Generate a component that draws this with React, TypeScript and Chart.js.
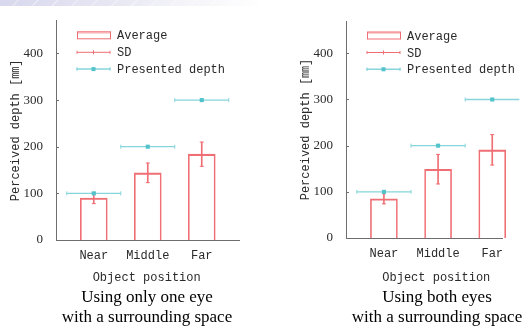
import React, { useEffect, useRef } from "react";
import { Chart, registerables } from "chart.js";

Chart.register(...registerables);

// ---- data ----
const categories = ["Near", "Middle", "Far"];
const yTickValues = [0, 100, 200, 300, 400];
const presentedDepth = [100, 200, 300];
const oneEyeAverage = [90, 144, 184];
const oneEyeSD = [12, 21, 26];
const bothEyesAverage = [85, 149, 191];
const bothEyesSD = [11, 32, 33];
const legendLabels = ["Average", "SD", "Presented depth"];
const yTitle = "Perceived depth [㎜]";
const xTitle = "Object position";
const captionOne = ["Using only one eye", "with a surrounding space"];
const captionBoth = ["Using both eyes", "with a surrounding space"];

// ---- styles ----
const RED = "#ef6f74";
const RED_LIGHT = "rgba(239,117,121,0.35)";
const CYAN_LINE = "#86d5dc";
const CYAN_MARK = "#52c2cb";
const AXIS = "#6e6e6e";
const TEXT = "#2a2a2a";
const MONO = "'Liberation Mono', 'Noto Sans CJK JP', monospace";
const SERIF = "'Liberation Serif', serif";

const legendPlugin = {
  id: "depthLegend",
  afterDatasetsDraw(chart: any) {
    const { ctx, chartArea } = chart;
    const l = chartArea.left;
    const t = chartArea.top;
    const x0 = l + 21;
    const x1 = l + 54;
    const xm = (x0 + x1) / 2;
    const rows = [14.5, 31.5, 48.3];
    ctx.save();
    // Average box
    ctx.fillStyle = RED_LIGHT;
    ctx.fillRect(x0, t + rows[0] - 3.5, x1 - x0, 2);
    ctx.strokeStyle = RED;
    ctx.lineWidth = 1;
    ctx.strokeRect(x0 + 0.5, t + rows[0] - 3.5, x1 - x0, 7);
    // SD
    ctx.beginPath();
    ctx.moveTo(x0, t + rows[1]);
    ctx.lineTo(x1, t + rows[1]);
    ctx.moveTo(xm, t + rows[1] - 2);
    ctx.lineTo(xm, t + rows[1] + 2);
    ctx.moveTo(x0, t + rows[1] - 1.5);
    ctx.lineTo(x0, t + rows[1] + 1.5);
    ctx.moveTo(x1, t + rows[1] - 1.5);
    ctx.lineTo(x1, t + rows[1] + 1.5);
    ctx.stroke();
    // Presented depth
    ctx.strokeStyle = CYAN_LINE;
    ctx.lineWidth = 1.5;
    ctx.beginPath();
    ctx.moveTo(x0, t + rows[2]);
    ctx.lineTo(x1, t + rows[2]);
    ctx.moveTo(x0, t + rows[2] - 1.5);
    ctx.lineTo(x0, t + rows[2] + 1.5);
    ctx.moveTo(x1, t + rows[2] - 1.5);
    ctx.lineTo(x1, t + rows[2] + 1.5);
    ctx.stroke();
    ctx.fillStyle = CYAN_MARK;
    ctx.fillRect(xm - 2, t + rows[2] - 2, 4, 4);
    // labels
    ctx.fillStyle = TEXT;
    ctx.font = `12px ${MONO}`;
    ctx.textBaseline = "middle";
    ctx.textAlign = "left";
    legendLabels.forEach((lab, i) => ctx.fillText(lab, l + 61, t + rows[i] + 1));
    ctx.restore();
  },
};

const innerTickPlugin = {
  id: "innerTicks",
  afterDraw(chart: any) {
    const { ctx, chartArea } = chart;
    const y = chart.scales.y;
    ctx.save();
    ctx.strokeStyle = AXIS;
    ctx.lineWidth = 1;
    y.ticks.forEach((tk: any) => {
      if (tk.value === 0) return;
      const py = Math.round(y.getPixelForValue(tk.value)) + 0.5;
      ctx.beginPath();
      ctx.moveTo(chartArea.left, py);
      ctx.lineTo(chartArea.left + 3, py);
      ctx.stroke();
    });
    ctx.restore();
  },
};

type Props = {
  average: number[];
  sd: number[];
  padLeft: number;
  padTop: number;
  xHeight: number;
  xMax: number;
};

function DepthChart({ average, sd, padLeft, padTop, xHeight, xMax }: Props) {
  const ref = useRef<HTMLCanvasElement>(null);
  useEffect(() => {
    const xs = categories.map((_, i) => i + 1);
    const barData = xs.map((x, i) => ({ x, y: average[i] }));
    const sdData = xs.map((x, i) => ({ x, y: [average[i] - sd[i], average[i] + sd[i]] }));
    const sdCaps: any[] = [];
    xs.forEach((x, i) => {
      sdCaps.push({ x, y: average[i] - sd[i] });
      sdCaps.push({ x, y: average[i] + sd[i] });
    });
    const presLine: any[] = [];
    const presCaps: any[] = [];
    xs.forEach((x, i) => {
      presLine.push({ x: x - 0.5, y: presentedDepth[i] });
      presLine.push({ x: x + 0.5, y: presentedDepth[i] });
      presLine.push({ x: x + 0.5, y: null });
      presCaps.push({ x: x - 0.5, y: presentedDepth[i] });
      presCaps.push({ x: x + 0.5, y: presentedDepth[i] });
    });
    const presMarks = xs.map((x, i) => ({ x, y: presentedDepth[i] }));

    const chart = new Chart(ref.current as HTMLCanvasElement, {
      type: "bar",
      data: {
        datasets: [
          {
            type: "bar",
            label: "Average",
            data: barData as any,
            backgroundColor: "rgba(255,255,255,0)",
            borderColor: RED,
            borderWidth: { top: 1.5, left: 1, right: 1, bottom: 0 } as any,
            borderSkipped: "start",
            barThickness: 27,
            grouped: false,
            order: 5,
            clip: false as any,
          },
          {
            type: "bar",
            label: "SD",
            data: sdData as any,
            backgroundColor: RED,
            borderWidth: 0,
            barThickness: 1,
            grouped: false,
            order: 4,
            clip: false as any,
          },
          {
            type: "line",
            label: "SD caps",
            data: sdCaps,
            showLine: false,
            pointStyle: "line",
            pointRadius: 2,
            pointBorderColor: RED,
            pointBorderWidth: 1,
            order: 3,
            clip: false as any,
          },
          {
            type: "line",
            label: "Presented depth",
            data: presLine,
            borderColor: CYAN_LINE,
            borderWidth: 1.3,
            pointRadius: 0,
            spanGaps: false,
            order: 2,
            clip: false as any,
          },
          {
            type: "line",
            label: "Presented caps",
            data: presCaps,
            showLine: false,
            pointStyle: "line",
            rotation: 90,
            pointRadius: 2,
            pointBorderColor: CYAN_LINE,
            pointBorderWidth: 1,
            order: 1,
            clip: false as any,
          },
          {
            type: "line",
            label: "Presented marks",
            data: presMarks,
            showLine: false,
            pointStyle: "rect",
            pointRadius: 2.9,
            pointBackgroundColor: CYAN_MARK,
            pointBorderWidth: 0,
            order: 0,
            clip: false as any,
          },
        ],
      },
      options: {
        animation: false,
        responsive: false,
        devicePixelRatio: 1,
        layout: { padding: { top: padTop, left: padLeft, right: 24, bottom: 0 } },
        plugins: { legend: { display: false }, tooltip: { enabled: false } },
        scales: {
          x: {
            type: "linear",
            min: 0.3,
            max: xMax,
            offset: false,
            afterBuildTicks: (s: any) => {
              s.ticks = categories.map((_, i) => ({ value: i + 1 }));
            },
            afterFit: (s: any) => {
              s.height = xHeight;
            },
            ticks: {
              autoSkip: false,
              maxRotation: 0,
              padding: 9,
              color: TEXT,
              font: { family: MONO, size: 12 },
              callback: (v: any) => categories[Math.round(Number(v)) - 1] ?? "",
            },
            grid: { display: false, drawTicks: false },
            border: { display: true, color: AXIS, width: 1 },
          },
          y: {
            type: "linear",
            min: 0,
            max: 470,
            afterBuildTicks: (s: any) => {
              s.ticks = yTickValues.map((v) => ({ value: v }));
            },
            afterFit: (s: any) => {
              s.width = 56;
            },
            ticks: {
              padding: 13,
              color: TEXT,
              font: { family: SERIF, size: 13 },
            },
            grid: { display: false, drawTicks: false },
            border: { display: true, color: AXIS, width: 1 },
            title: {
              display: true,
              text: yTitle,
              color: TEXT,
              font: { family: MONO, size: 12 },
              padding: { top: 9, bottom: 0 },
            },
          },
        },
      } as any,
      plugins: [legendPlugin, innerTickPlugin],
    });
    return () => chart.destroy();
  }, []);
  return (
    <canvas
      ref={ref}
      width={263}
      height={290}
      style={{ display: "block", width: 263, height: 290 }}
    />
  );
}

const captionStyle: React.CSSProperties = {
  position: "absolute",
  width: 260,
  textAlign: "center",
  fontFamily: SERIF,
  fontSize: 17,
  lineHeight: "20px",
  color: "#000",
  whiteSpace: "nowrap",
};

const xTitleStyle: React.CSSProperties = {
  position: "absolute",
  width: 200,
  textAlign: "center",
  fontFamily: MONO,
  fontSize: 12,
  lineHeight: "14px",
  color: TEXT,
  whiteSpace: "nowrap",
};

export default function App() {
  return (
    <div
      style={{
        position: "fixed",
        left: 0,
        top: 0,
        width: 526,
        height: 327,
        background: "#ffffff",
        overflow: "hidden",
      }}
    >
      <div
        style={{
          position: "absolute",
          left: 0,
          top: 0,
          width: 526,
          height: 6,
          background:
            "repeating-linear-gradient(135deg, rgba(255,255,255,0) 0px, rgba(255,255,255,0) 12px, rgba(255,255,255,0.5) 13px, rgba(255,255,255,0) 14px), linear-gradient(to right, #d8d8ee 0%, #e6e6f3 20%, #f4f4f9 35%, #ffffff 50%)",
        }}
      />
      <div style={{ position: "absolute", left: 0, top: 0 }}>
        <DepthChart average={oneEyeAverage} sd={oneEyeSD} padLeft={0} padTop={20} xHeight={50} xMax={3.69} />
      </div>
      <div style={{ position: "absolute", left: 263, top: 0 }}>
        <DepthChart average={bothEyesAverage} sd={bothEyesSD} padLeft={27} padTop={21} xHeight={52} xMax={3.18} />
      </div>
      <div style={{ ...xTitleStyle, left: 146.7 - 100, top: 271 }}>{xTitle}</div>
      <div style={{ ...xTitleStyle, left: 436.3 - 100, top: 271 }}>{xTitle}</div>
      <div style={{ ...captionStyle, left: 147 - 130, top: 286.5 }}>
        {captionOne[0]}
        <br />
        {captionOne[1]}
      </div>
      <div style={{ ...captionStyle, left: 437 - 130, top: 286.5 }}>
        {captionBoth[0]}
        <br />
        {captionBoth[1]}
      </div>
    </div>
  );
}
